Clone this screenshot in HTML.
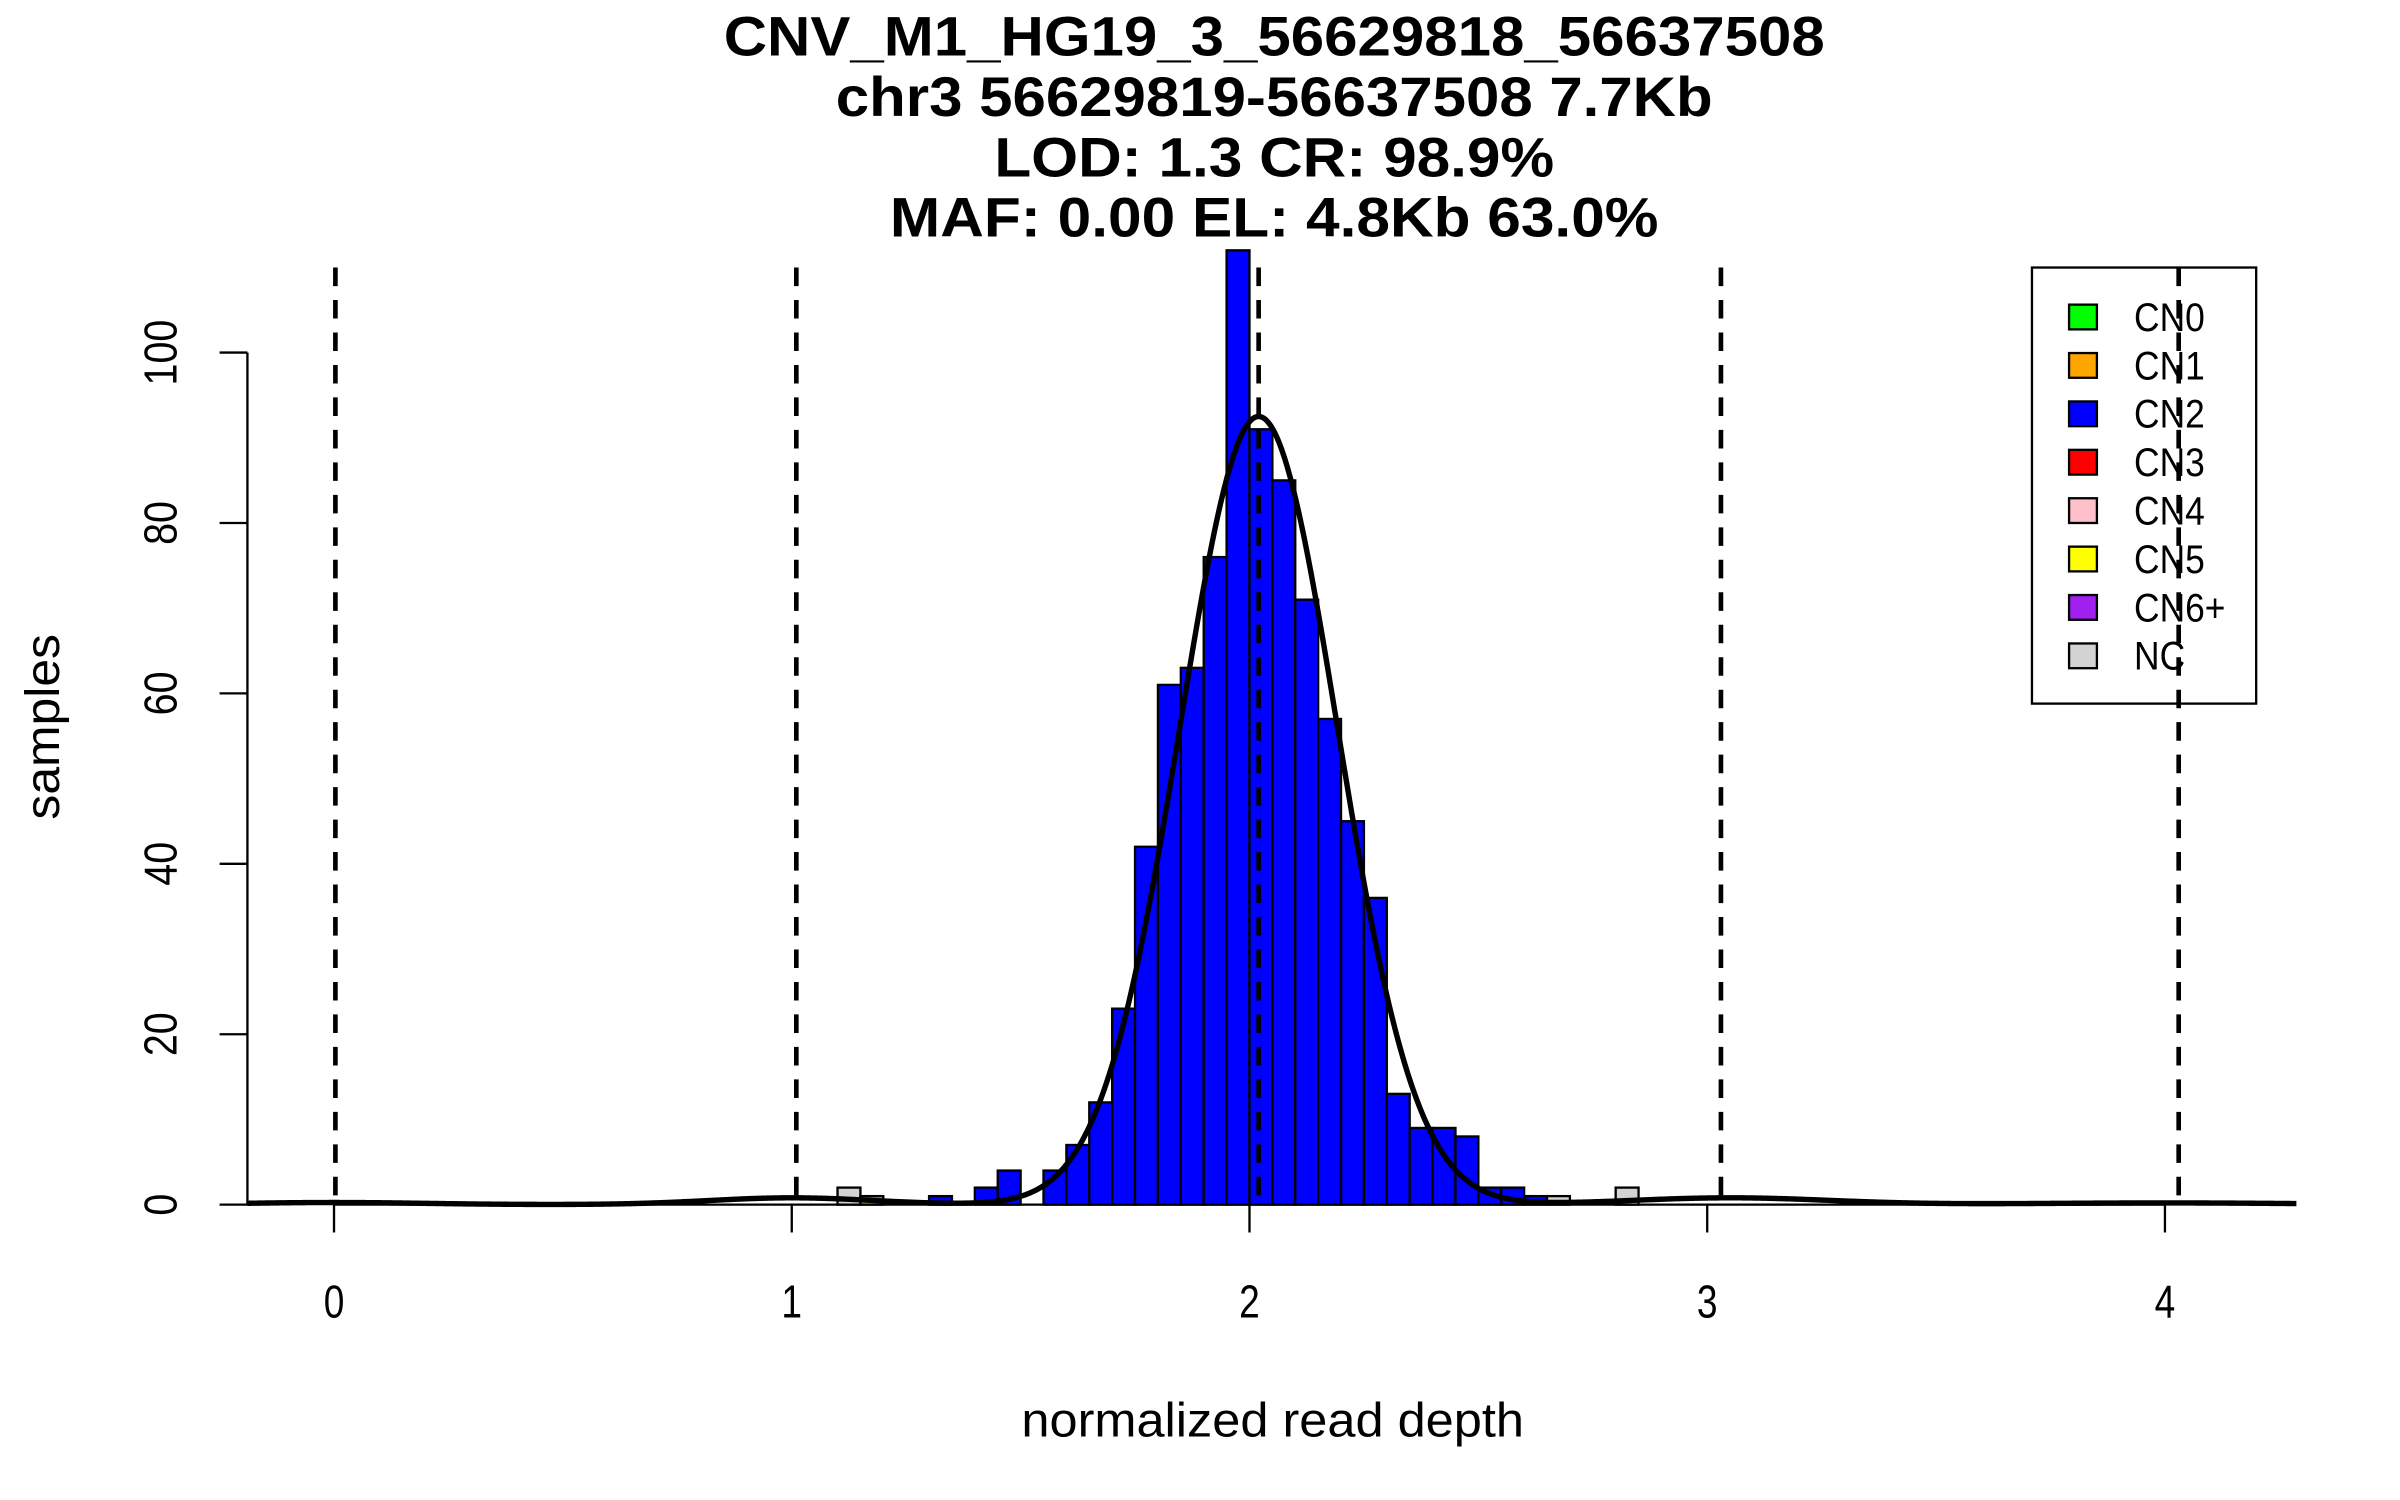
<!DOCTYPE html>
<html><head><meta charset="utf-8"><style>html,body{margin:0;padding:0;background:#fff}svg{display:block}text{font-family:"Liberation Sans",Arial,sans-serif}</style></head>
<body>
<svg id="chart" width="2400" height="1500" viewBox="0 0 1552 970" preserveAspectRatio="none" xmlns="http://www.w3.org/2000/svg">
<rect width="1552" height="970" fill="#fff"/>
<g font-weight="bold" font-size="36" text-anchor="middle">
<text x="824" y="36" textLength="712" lengthAdjust="spacingAndGlyphs">CNV_M1_HG19_3_56629818_56637508</text>
<text x="824" y="75" textLength="567" lengthAdjust="spacingAndGlyphs">chr3 56629819-56637508 7.7Kb</text>
<text x="824" y="114" textLength="362" lengthAdjust="spacingAndGlyphs">LOD: 1.3 CR: 98.9%</text>
<text x="824" y="153" textLength="497" lengthAdjust="spacingAndGlyphs">MAF: 0.00 EL: 4.8Kb 63.0%</text>
</g>
<g id="bars"></g>
<g id="curve"></g>
<g id="vlines"></g>
<g id="axes"></g>
<text x="823" y="929" font-size="31" text-anchor="middle" textLength="325" lengthAdjust="spacingAndGlyphs">normalized read depth</text>
<text transform="translate(38,470) rotate(-90)" font-size="31" text-anchor="middle" textLength="120" lengthAdjust="spacingAndGlyphs">samples</text>
<g id="legend"></g>
</svg>
<script>
// ---- data ----
const binStarts = [1.10,1.15,1.30,1.40,1.45,1.55,1.60,1.65,1.70,1.75,1.80,1.85,1.90,1.95,2.00,2.05,2.10,2.15,2.20,2.25,2.30,2.35,2.40,2.45,2.50,2.55,2.60,2.65,2.80];
const binCounts = [2,1,1,2,4,4,7,12,23,42,61,63,76,112,91,85,71,57,45,36,13,9,9,8,2,2,1,1,2];
const binClasses = ["NC","CN1","CN2","CN2","CN2","CN2","CN2","CN2","CN2","CN2","CN2","CN2","CN2","CN2","CN2","CN2","CN2","CN2","CN2","CN2","CN2","CN2","CN2","CN2","CN2","CN2","CN2","NC","NC"];
const compMeans = [0.0,1.0,2.02,3.05,4.0];
const compHeights = [0.25,0.8,92.5,0.8,0.2];
const compSds = [0.2,0.18,0.172,0.22,0.3];
const cutLines = [0.003,1.01,2.02,3.03,4.03];
const xTicks = [0,1,2,3,4];
const yTicks = [0,20,40,60,80,100];
const legendLabels = ["CN0","CN1","CN2","CN3","CN4","CN5","CN6+","NC"];
const legendColors = ["#00ff00","#ffa500","#0000ff","#ff0000","#ffc0cb","#ffff00","#a020f0","#d3d3d3"];
const binWidth = 0.05;
// ---- scales ----
const NS="http://www.w3.org/2000/svg";
function xs(v){return 216+v*296;}
function ys(v){return 779-v*5.51;}
function mk(tag,attrs,parent){const e=document.createElementNS(NS,tag);for(const k in attrs)e.setAttribute(k,attrs[k]);parent.appendChild(e);return e;}
const colorOf={}; legendLabels.forEach((l,i)=>colorOf[l]=legendColors[i]);
const gb=document.getElementById('bars');
binStarts.forEach((b,i)=>{
  const r=mk('rect',{x:xs(b),y:ys(binCounts[i]),width:xs(b+binWidth)-xs(b),height:ys(0)-ys(binCounts[i]),fill:colorOf[binClasses[i]],stroke:'#000','stroke-width':1.5},gb);
  
  
});
const gc=document.getElementById('curve');
let d='';
for(let px=160;px<=1485;px+=1){
  const v=(px-216)/296;let s=0;
  for(let k=0;k<compMeans.length;k++){const z=(v-compMeans[k])/compSds[k];s+=compHeights[k]*Math.exp(-0.5*z*z);}
  d+=(px===160?'M':'L')+px+','+ys(s).toFixed(2);
}
const cp=mk('path',{d:d,fill:'none',stroke:'#000','stroke-width':3.5},gc);


const gv=document.getElementById('vlines');
cutLines.forEach(c=>{
  const l=mk('line',{x1:xs(c),x2:xs(c),y1:173,y2:779,stroke:'#000','stroke-width':3,'stroke-dasharray':'12,9'},gv);
  
  
});
const ga=document.getElementById('axes');
const xl=mk('line',{x1:xs(xTicks[0]),x2:xs(xTicks[xTicks.length-1]),y1:779,y2:779,stroke:'#000','stroke-width':1.5},ga);


xTicks.forEach(t=>{
  const tk=mk('line',{x1:xs(t),x2:xs(t),y1:779,y2:797,stroke:'#000','stroke-width':1.5},ga);
  
  
  const tx=mk('text',{x:xs(t),y:852,'font-size':30,'text-anchor':'middle',transform:`translate(${xs(t)},0) scale(0.8,1) translate(${-xs(t)},0)`},ga);
  tx.textContent=t;
  
  
});
const yl=mk('line',{x1:160,x2:160,y1:ys(yTicks[yTicks.length-1]),y2:ys(0),stroke:'#000','stroke-width':1.5},ga);


yTicks.forEach(t=>{
  const tk=mk('line',{x1:142,x2:160,y1:ys(t),y2:ys(t),stroke:'#000','stroke-width':1.5},ga);
  
  
  const tx=mk('text',{transform:`translate(114,${ys(t)}) rotate(-90) scale(0.85,1)`,'font-size':30,'text-anchor':'middle'},ga);
  tx.textContent=t;
  
  
});
const gl=document.getElementById('legend');
const lb=mk('rect',{x:1314,y:173,width:145,height:282,fill:'none',stroke:'#000','stroke-width':1.5},gl);


legendLabels.forEach((lab,i)=>{
  const y=205+i*31.3;
  const sw=mk('rect',{x:1338,y:y-8,width:18,height:16,fill:legendColors[i],stroke:'#000','stroke-width':1.5},gl);
  
  
  const tx=mk('text',{transform:`translate(1380,${y+9}) scale(0.88,1)`,'font-size':26},gl);
  tx.textContent=lab;
  
  
});
</script>
</body></html>
